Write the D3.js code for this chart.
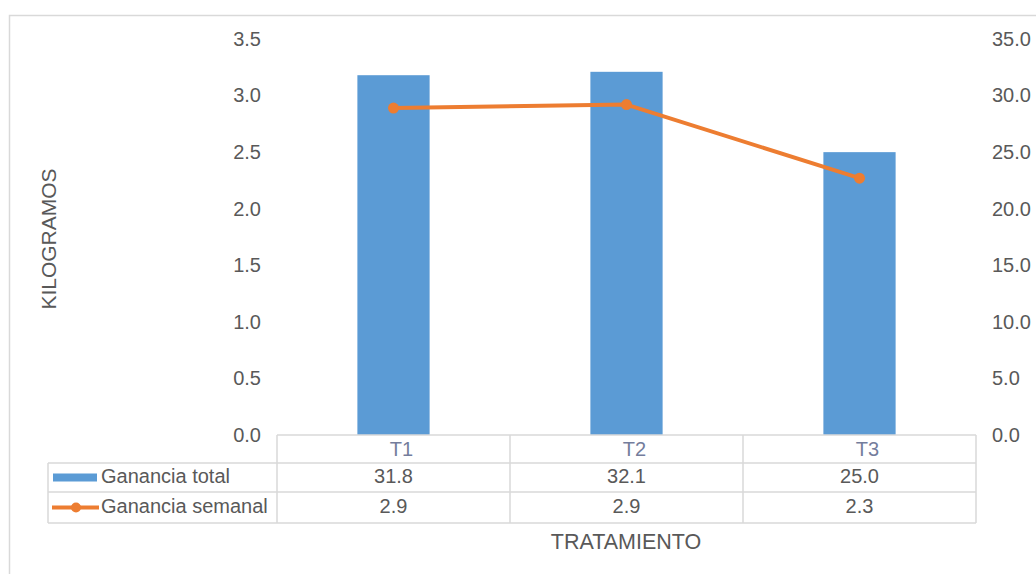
<!DOCTYPE html>
<html>
<head>
<meta charset="utf-8">
<script src="https://cdn.jsdelivr.net/npm/d3@7"></script>
<style>
  body { margin: 0; background: #fff; }
  text { font-family: "Liberation Sans", Arial, sans-serif; fill: #595959; }
</style>
</head>
<body>
<script>
// data
const tratamientos = ['T1', 'T2', 'T3'];
const gananciaTotal = [31.8, 32.1, 25.0];     // bars, right axis
const gananciaSemanal = [2.89, 2.92, 2.27];   // line, left axis
const leftTicks = [0, 0.5, 1, 1.5, 2, 2.5, 3, 3.5];
const rightTicks = [0, 5, 10, 15, 20, 25, 30, 35];

const W = 1036, H = 574;
const svg = d3.select('body').append('svg')
  .attr('width', W)
  .attr('height', H);

// outer chart border (only partly visible in the shot)
svg.append('rect')
  .attr('x', 9.5).attr('y', 15.5)
  .attr('width', W + 20).attr('height', H + 20)
  .attr('fill', 'none').attr('stroke', '#d9d9d9').attr('stroke-width', 1.5);

const plotL = 277, plotR = 976, plotT = 39, plotB = 435;

const xScale = d3.scaleBand().domain(tratamientos).range([plotL, plotR]);
const yLeft = d3.scaleLinear().domain([0, 3.5]).range([plotB, plotT]);
const yRight = d3.scaleLinear().domain([0, 35]).range([plotB, plotT]);

const bw = xScale.bandwidth() * 0.31;

// bars
svg.selectAll('.bar')
  .data(tratamientos)
  .enter()
  .append('rect')
  .attr('class', 'bar')
  .attr('x', (d) => xScale(d) + (xScale.bandwidth() - bw) / 2)
  .attr('width', bw)
  .attr('y', (d, i) => yRight(gananciaTotal[i]))
  .attr('height', (d, i) => plotB - yRight(gananciaTotal[i]))
  .attr('fill', '#5b9bd5');

// line
const pts = tratamientos.map((d, i) => [xScale(d) + xScale.bandwidth() / 2, yLeft(gananciaSemanal[i])]);
svg.append('path')
  .attr('d', d3.line()(pts))
  .attr('fill', 'none')
  .attr('stroke', '#ed7d31')
  .attr('stroke-width', 4)
  .attr('stroke-linejoin', 'round');
svg.selectAll('.dot')
  .data(pts)
  .enter()
  .append('circle')
  .attr('cx', (d) => d[0]).attr('cy', (d) => d[1])
  .attr('r', 5.5)
  .attr('fill', '#ed7d31');

// axes, no lines just labels
const leftAxis = d3.axisLeft(yLeft).tickValues(leftTicks).tickFormat(d3.format('.1f')).tickSize(0).tickPadding(0);
const rightAxis = d3.axisRight(yRight).tickValues(rightTicks).tickFormat(d3.format('.1f')).tickSize(0).tickPadding(0);

const gl = svg.append('g').attr('transform', 'translate(261,0)').call(leftAxis);
const gr = svg.append('g').attr('transform', 'translate(992,0)').call(rightAxis);
[gl, gr].forEach(function (g) {
  g.select('.domain').remove();
  g.selectAll('text')
    .attr('font-size', 20)
    .attr('font-family', '"Liberation Sans", Arial, sans-serif')
    .attr('fill', '#595959');
});

// data table under the plot
const tableL = 48, rowH = [28, 29, 31];
const rowY = [plotB, plotB + rowH[0], plotB + rowH[0] + rowH[1], plotB + rowH[0] + rowH[1] + rowH[2]];
const grid = svg.append('g').attr('stroke', '#d9d9d9').attr('stroke-width', 1.5);

// horizontal lines
grid.append('line').attr('x1', plotL).attr('x2', plotR).attr('y1', rowY[0]).attr('y2', rowY[0]);
for (let r = 1; r < rowY.length; r++) {
  grid.append('line').attr('x1', tableL).attr('x2', plotR).attr('y1', rowY[r]).attr('y2', rowY[r]);
}
// vertical lines
grid.append('line').attr('x1', tableL).attr('x2', tableL).attr('y1', rowY[1]).attr('y2', rowY[3]);
const colEdges = tratamientos.map((d) => xScale(d)).concat([plotR]);
colEdges.forEach(function (x) {
  grid.append('line').attr('x1', x).attr('x2', x).attr('y1', rowY[0]).attr('y2', rowY[3]);
});

const rowMid = (r) => (rowY[r] + rowY[r + 1]) / 2;

// header row
svg.selectAll('.hdr')
  .data(tratamientos)
  .enter()
  .append('text')
  .attr('x', (d) => xScale(d) + xScale.bandwidth() / 2 + 8)
  .attr('y', rowMid(0) + 2)
  .attr('text-anchor', 'middle')
  .attr('dominant-baseline', 'middle')
  .attr('font-size', 20)
  .style('fill', '#747d9c')
  .text((d) => d);

const fmt = d3.format('.1f');
[gananciaTotal, gananciaSemanal].forEach(function (vals, r) {
  svg.selectAll('.cell' + r)
    .data(vals)
    .enter()
    .append('text')
    .attr('x', (d, i) => xScale(tratamientos[i]) + xScale.bandwidth() / 2)
    .attr('y', rowMid(r + 1))
    .attr('text-anchor', 'middle')
    .attr('dominant-baseline', 'middle')
    .attr('font-size', 20)
    .text((d) => fmt(d));
});

// legend keys inside the table
svg.append('rect')
  .attr('x', 53).attr('y', rowMid(1) - 4)
  .attr('width', 44).attr('height', 8)
  .attr('fill', '#5b9bd5');
svg.append('text')
  .attr('x', 101).attr('y', rowMid(1))
  .attr('dominant-baseline', 'middle')
  .attr('font-size', 20)
  .text('Ganancia total');

svg.append('line')
  .attr('x1', 52).attr('x2', 99)
  .attr('y1', rowMid(2)).attr('y2', rowMid(2))
  .attr('stroke', '#ed7d31').attr('stroke-width', 4);
svg.append('circle')
  .attr('cx', 76).attr('cy', rowMid(2)).attr('r', 5)
  .attr('fill', '#ed7d31');
svg.append('text')
  .attr('x', 101).attr('y', rowMid(2))
  .attr('dominant-baseline', 'middle')
  .attr('font-size', 20)
  .text('Ganancia semanal');

// axis titles
svg.append('text')
  .attr('x', 626).attr('y', 543)
  .attr('text-anchor', 'middle')
  .attr('dominant-baseline', 'middle')
  .attr('font-size', 21.5)
  .text('TRATAMIENTO');

svg.append('text')
  .attr('transform', 'translate(50,239) rotate(-90)')
  .attr('text-anchor', 'middle')
  .attr('dominant-baseline', 'middle')
  .attr('font-size', 21)
  .text('KILOGRAMOS');
</script>
</body>
</html>
